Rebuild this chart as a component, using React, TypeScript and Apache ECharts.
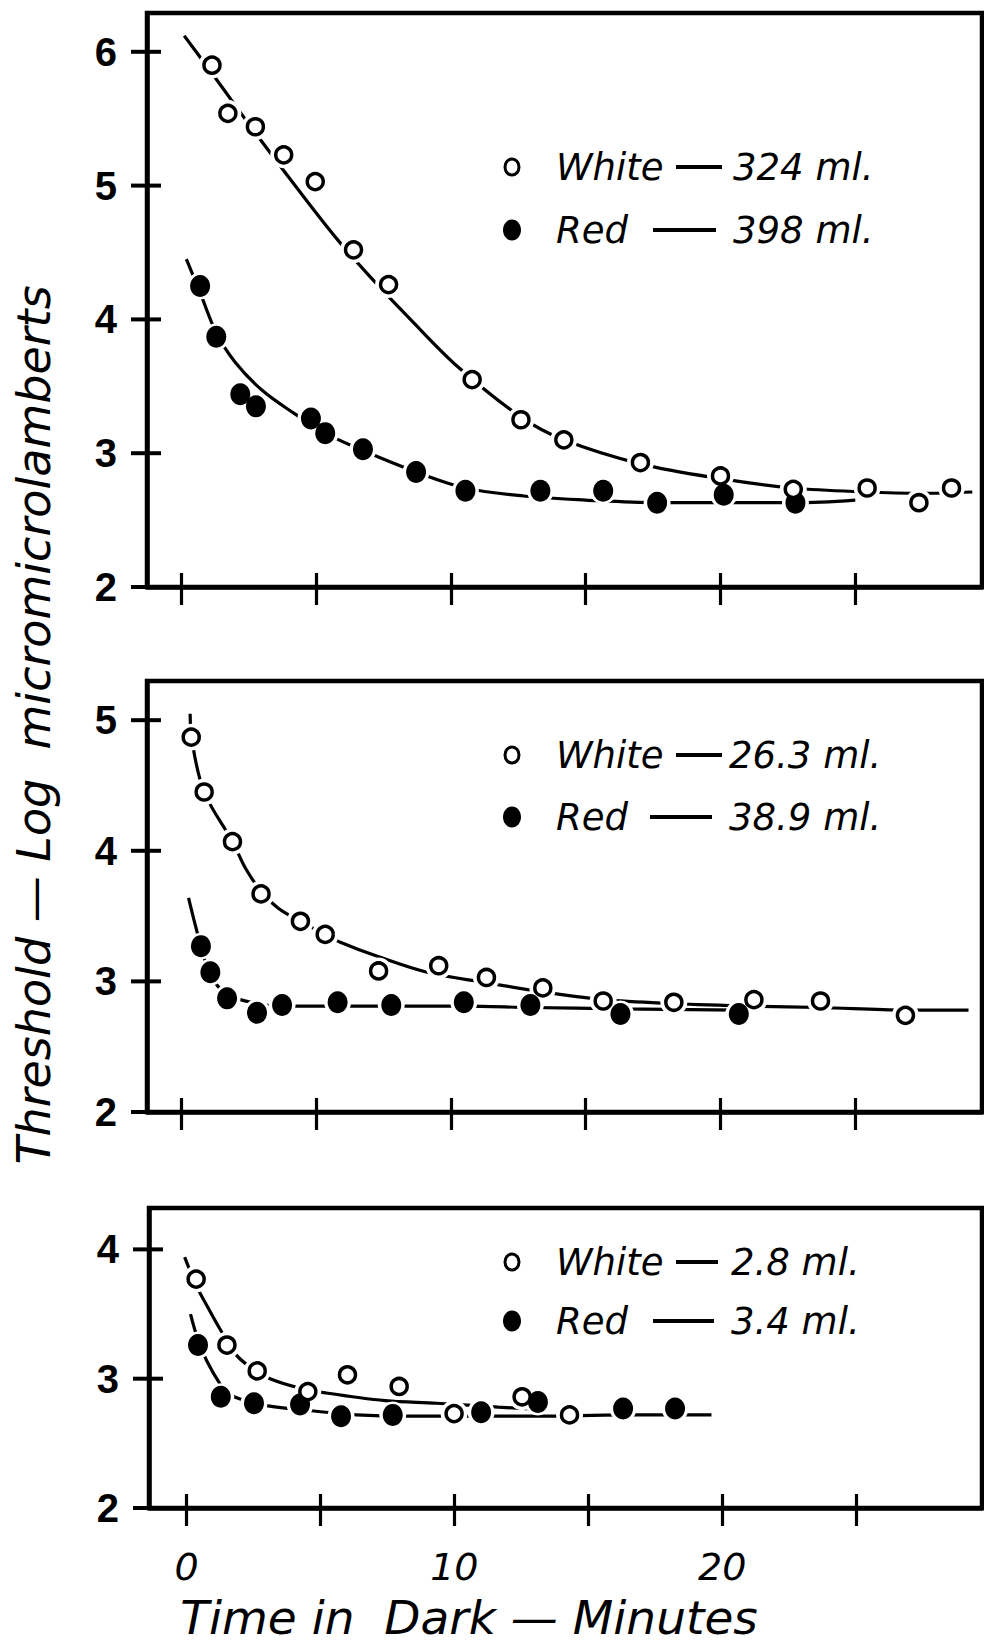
import React, { useEffect, useRef } from "react";
import * as echarts from "echarts";

// ---- tick values ----
const xTicks = [0, 5, 10, 15, 20, 25];
const xTickLabels = [0, 10, 20];
const yTicks1 = [2, 3, 4, 5, 6];
const yTicks2 = [2, 3, 4, 5];
const yTicks3 = [2, 3, 4];

// ---- legend labels ----
const whiteLabels = ["324 ml.", "26.3 ml.", "2.8 ml."];
const redLabels = ["398 ml.", "38.9 ml.", "3.4 ml."];

// ---- Panel 1 : White 324 ml. / Red 398 ml. ---- [minutes, log threshold]
const p1White = [[1.14, 5.9], [1.73, 5.54], [2.75, 5.44], [3.8, 5.23], [4.97, 5.03], [6.39, 4.52], [7.69, 4.26], [10.79, 3.55], [12.6, 3.25], [14.19, 3.1], [17.03, 2.93], [20.0, 2.83], [22.7, 2.73], [25.44, 2.74], [27.36, 2.63], [28.57, 2.74]];
const p1Red = [[0.7, 4.25], [1.3, 3.87], [2.19, 3.44], [2.77, 3.35], [4.81, 3.26], [5.34, 3.15], [6.74, 3.03], [8.71, 2.86], [10.54, 2.72], [13.32, 2.72], [15.65, 2.72], [17.65, 2.63], [20.12, 2.69], [22.78, 2.63]];
const p1WhiteCurve = [[0.11, 6.12], [1.14, 5.84], [2.0, 5.6], [2.8, 5.38], [4.3, 4.98], [5.78, 4.6], [7.0, 4.32], [8.5, 4.0], [10.29, 3.64], [12.6, 3.27], [14.19, 3.1], [17.03, 2.92], [20.0, 2.81], [22.7, 2.74], [25.4, 2.71], [27.4, 2.7], [29.34, 2.71]];
const p1RedCurve = [[0.19, 4.45], [0.7, 4.2], [1.3, 3.9], [2.0, 3.68], [3.0, 3.47], [4.17, 3.3], [5.34, 3.15], [6.74, 3.02], [8.71, 2.86], [10.54, 2.74], [12.7, 2.68], [15.0, 2.65], [17.65, 2.63], [20.5, 2.63], [22.78, 2.63], [25.0, 2.65]];

// ---- Panel 2 : White 26.3 ml. / Red 38.9 ml. ----
const p2White = [[0.37, 4.87], [0.85, 4.45], [1.9, 4.07], [2.96, 3.67], [4.42, 3.46], [5.34, 3.36], [7.32, 3.08], [9.55, 3.12], [11.32, 3.03], [13.41, 2.95], [15.65, 2.85], [18.27, 2.84], [21.24, 2.86], [23.71, 2.85], [26.86, 2.74]];
const p2Red = [[0.73, 3.27], [1.08, 3.07], [1.7, 2.87], [2.81, 2.76], [3.74, 2.82], [5.8, 2.84], [7.79, 2.82], [10.48, 2.84], [12.95, 2.82], [16.29, 2.75], [20.68, 2.75]];
const p2WhiteCurve = [[0.33, 5.05], [0.4, 4.84], [0.85, 4.45], [1.9, 4.07], [2.4, 3.86], [2.96, 3.69], [3.6, 3.56], [4.42, 3.46], [5.34, 3.36], [5.9, 3.3], [7.3, 3.19], [9.12, 3.07], [11.32, 2.99], [13.41, 2.92], [15.65, 2.86], [18.27, 2.83], [21.24, 2.81], [23.71, 2.8], [26.86, 2.78], [29.2, 2.78]];
const p2RedCurve = [[0.27, 3.64], [0.73, 3.27], [1.08, 3.05], [1.7, 2.9], [2.81, 2.83], [3.74, 2.81], [5.8, 2.81], [10.48, 2.81], [12.95, 2.8], [16.29, 2.79], [20.68, 2.78]];

// ---- Panel 3 : White 2.8 ml. / Red 3.4 ml. ----
const p3White = [[0.36, 3.77], [1.51, 3.26], [2.64, 3.06], [4.53, 2.9], [6.01, 3.03], [7.94, 2.94], [9.99, 2.73], [12.53, 2.86], [14.3, 2.72]];
const p3Red = [[0.43, 3.26], [1.28, 2.86], [2.52, 2.81], [4.24, 2.8], [5.77, 2.71], [7.7, 2.72], [11.0, 2.74], [13.12, 2.82], [16.3, 2.77], [18.24, 2.77]];
const p3WhiteCurve = [[-0.07, 3.94], [0.39, 3.71], [0.8, 3.55], [1.26, 3.38], [1.83, 3.19], [2.44, 3.08], [3.12, 3.0], [4.19, 2.93], [5.19, 2.89], [7.42, 2.83], [9.34, 2.81], [11.64, 2.78], [13.43, 2.76]];
const p3RedCurve = [[0.15, 3.5], [0.43, 3.3], [0.75, 3.14], [1.25, 2.96], [1.6, 2.88], [2.2, 2.83], [3.04, 2.79], [4.76, 2.75], [6.34, 2.72], [8.35, 2.71], [11.0, 2.71], [13.1, 2.71], [16.3, 2.72], [19.6, 2.72]];

const panels = [
  { white: p1White, red: p1Red, whiteCurve: p1WhiteCurve, redCurve: p1RedCurve, yTicks: yTicks1 },
  { white: p2White, red: p2Red, whiteCurve: p2WhiteCurve, redCurve: p2RedCurve, yTicks: yTicks2 },
  { white: p3White, red: p3Red, whiteCurve: p3WhiteCurve, redCurve: p3RedCurve, yTicks: yTicks3 },
];

// layout (pixels / axis extents)
const gridBoxes = [
  { left: 147, top: 13, width: 835, height: 574, xMin: -1.27, yMax: 6.29 },
  { left: 147, top: 681, width: 835, height: 431, xMin: -1.27, yMax: 5.3 },
  { left: 149, top: 1208, width: 833, height: 300, xMin: -1.4, yMax: 4.32 },
];
const legendBoxes = [
  { y1: 167, y2: 230, wd: [676, 722], rd: [653, 716], nx: 733 },
  { y1: 755, y2: 817, wd: [676, 722], rd: [650, 712], nx: 729 },
  { y1: 1262, y2: 1321, wd: [676, 718], rd: [653, 714], nx: 731 },
];

const FONT = "DejaVu Sans";
const INK = "#000";

function buildOption() {
  const grid: any[] = [];
  const xAxis: any[] = [];
  const yAxis: any[] = [];
  const series: any[] = [];
  const graphic: any[] = [];

  gridBoxes.forEach((g, i) => {
    grid.push({
      left: g.left, top: g.top, width: g.width, height: g.height,
      show: true, borderColor: INK, borderWidth: 4.5, backgroundColor: "transparent",
    });
    const common = { type: "value", gridIndex: i, min: g.xMin, max: 29.7, splitLine: { show: false }, position: "bottom" };
    xAxis.push({
      ...common,
      axisLine: { show: true, onZero: false, lineStyle: { color: INK, width: 4.5 } },
      axisTick: { show: true, inside: false, length: 18, customValues: xTicks, lineStyle: { color: INK, width: 3.2 } },
      axisLabel: i === 2
        ? { show: true, customValues: xTickLabels, margin: 40, color: INK, fontFamily: FONT, fontStyle: "italic", fontSize: 38, lineHeight: 38 }
        : { show: false },
    });
    xAxis.push({
      ...common,
      axisLine: { show: false, onZero: false },
      axisTick: { show: true, inside: true, length: 14, customValues: xTicks, lineStyle: { color: INK, width: 3.2 } },
      axisLabel: { show: false },
    });
    yAxis.push({
      type: "value", gridIndex: i, min: 2, max: g.yMax, splitLine: { show: false }, position: "left",
      axisLine: { show: true, onZero: false, lineStyle: { color: INK, width: 4.5 } },
      axisTick: { show: false },
      axisLabel: { show: true, customValues: panels[i].yTicks, margin: 30, color: INK, fontFamily: "Liberation Sans", fontWeight: "bold", fontSize: 40 },
    });

    const p = panels[i];
    const ax = { xAxisIndex: 2 * i, yAxisIndex: i };
    const lineCommon = {
      ...ax, type: "line", smooth: 0.35, showSymbol: false, symbol: "none",
      lineStyle: { color: INK, width: 3.2 }, z: 1, silent: true,
    };
    series.push({ ...lineCommon, name: `white-curve-${i}`, data: p.whiteCurve });
    series.push({ ...lineCommon, name: `red-curve-${i}`, data: p.redCurve });
    // white halos so the curves break around the symbols
    series.push({ ...ax, type: "scatter", name: `halo-${i}`, data: [...p.white, ...p.red], symbolSize: 27, itemStyle: { color: "#fff", opacity: 1 }, z: 2, silent: true });
    series.push({ ...ax, type: "scatter", name: `Red-${i}`, data: p.red, symbolSize: [20, 22], itemStyle: { color: INK, opacity: 1 }, z: 3 });
    series.push({
      ...ax, type: "scatter", name: `White-${i}`, data: p.white, symbolSize: 16,
      itemStyle: { color: "#fff", borderColor: INK, borderWidth: 3.5, opacity: 1 }, z: 4,
    });
    // y-axis tick marks crossing the axis line (placed on the axis through the scales)
    series.push({
      ...ax, type: "scatter", name: `ytick-${i}`, data: p.yTicks.map((v) => [g.xMin, v]),
      symbol: "rect", symbolSize: [30, 4], symbolOffset: [-1, 0], itemStyle: { color: INK, opacity: 1 }, z: 6, silent: true, clip: false,
    });

    // legend block
    const L = legendBoxes[i];
    const ts = { fill: INK, fontFamily: FONT, fontStyle: "italic", fontSize: 37, verticalAlign: "middle", align: "left" };
    graphic.push({ type: "ellipse", shape: { cx: 512, cy: L.y1, rx: 7, ry: 8 }, style: { fill: "#fff", stroke: INK, lineWidth: 3 } });
    graphic.push({ type: "ellipse", shape: { cx: 512, cy: L.y2, rx: 9, ry: 10.5 }, style: { fill: INK } });
    graphic.push({ type: "text", x: 556, y: L.y1, style: { ...ts, text: "White" } });
    graphic.push({ type: "text", x: 556, y: L.y2, style: { ...ts, text: "Red" } });
    graphic.push({ type: "line", shape: { x1: L.wd[0], y1: L.y1, x2: L.wd[1], y2: L.y1 }, style: { stroke: INK, lineWidth: 4 } });
    graphic.push({ type: "line", shape: { x1: L.rd[0], y1: L.y2, x2: L.rd[1], y2: L.y2 }, style: { stroke: INK, lineWidth: 4 } });
    graphic.push({ type: "text", x: L.nx, y: L.y1, style: { ...ts, text: whiteLabels[i] } });
    graphic.push({ type: "text", x: L.nx, y: L.y2, style: { ...ts, text: redLabels[i] } });
  });

  // axis titles
  graphic.push({
    type: "text", x: 34, y: 725, rotation: Math.PI / 2,
    style: { text: "Threshold — Log  micromicrolamberts", fill: INK, fontFamily: FONT, fontStyle: "italic", fontSize: 46, align: "center", verticalAlign: "middle" },
  });
  graphic.push({
    type: "text", x: 469, y: 1617,
    style: { text: "Time in  Dark — Minutes", fill: INK, fontFamily: FONT, fontStyle: "italic", fontSize: 47, lineHeight: 47, align: "center", verticalAlign: "middle" },
  });

  return { animation: false, backgroundColor: "#fff", grid, xAxis, yAxis, series, graphic };
}

export default function App() {
  const ref = useRef<HTMLDivElement>(null);
  useEffect(() => {
    if (!ref.current) return;
    const chart = echarts.init(ref.current, undefined, { renderer: "svg" });
    chart.setOption(buildOption() as any);
    return () => chart.dispose();
  }, []);
  return (
    <div
      ref={ref}
      style={{ position: "absolute", left: 0, top: 0, width: 984, height: 1644, background: "#fff" }}
    />
  );
}
